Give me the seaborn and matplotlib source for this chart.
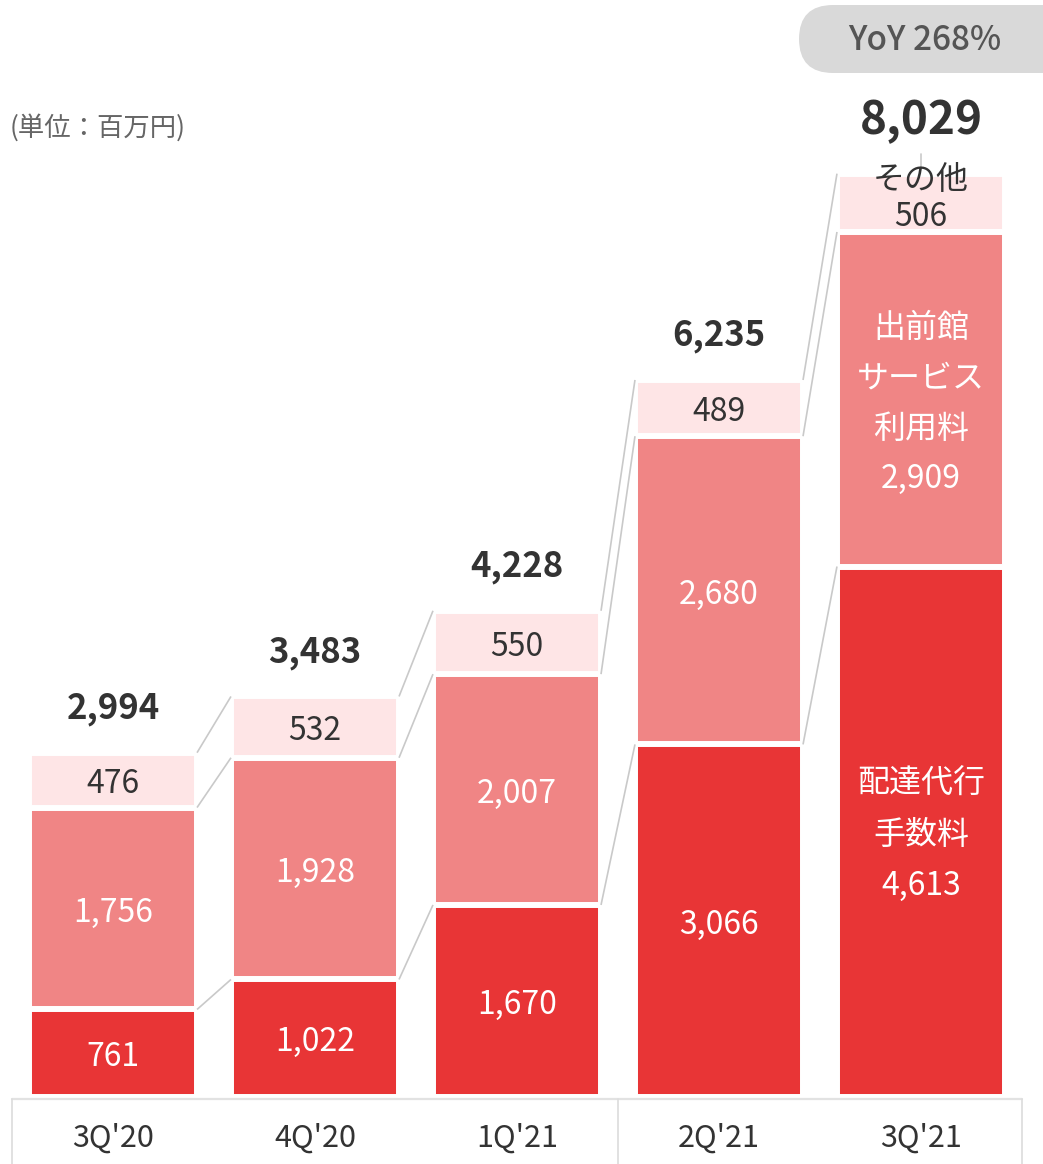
import matplotlib
matplotlib.use("Agg")
import matplotlib.pyplot as plt
from matplotlib.patches import FancyBboxPatch
import seaborn as sns
import pandas as pd

# Quarterly revenue breakdown (millions of yen)
categories = ["3Q'20", "4Q'20", "1Q'21", "2Q'21", "3Q'21"]
delivery_fee = [761, 1022, 1670, 3066, 4613]   # 配達代行手数料
service_fee = [1756, 1928, 2007, 2680, 2909]   # 出前館サービス利用料
other = [476, 532, 550, 489, 506]              # その他
totals = [2994, 3483, 4228, 6235, 8029]
yoy_label = "YoY 268%"
unit_label = "(単位：百万円)"

RED = "#E83536"
PINK = "#F08585"
LIGHT = "#FEE5E6"
DARK = "#333333"
LINE = "#C9C9C9"

sns.set_style("white")
FONT = ["Noto Sans CJK JP", "DejaVu Sans"]
plt.rcParams["font.family"] = FONT

W, H = 1043, 1164
fig = plt.figure(figsize=(W / 100, H / 100), dpi=100)
ax = fig.add_axes([0, 0, 1, 1])

# scale: pixels per million yen, baseline and bar spacing in pixels
k = 0.1150
base_px = 67
step_px = 202
first_px = 113

mid_top = [d + s for d, s in zip(delivery_fee, service_fee)]
df = pd.DataFrame({
    "quarter": categories,
    "total": totals,
    "mid": mid_top,
    "delivery": delivery_fee,
})

bar_w = 0.83
common = dict(x="quarter", order=categories, errorbar=None, width=bar_w,
              edgecolor="white", linewidth=4.3, ax=ax, saturation=1)
sns.barplot(data=df, y="total", color=LIGHT, **common)
sns.barplot(data=df, y="mid", color=PINK, **common)
sns.barplot(data=df, y="delivery", color=RED, **common)

ax.set_xlim(-first_px / step_px, (W - first_px) / step_px)
ax.set_ylim(-base_px / k, (H - base_px) / k)
ax.set_axis_off()

# connector lines between neighbouring bars at each segment boundary
half = 0.416
levels = [delivery_fee, mid_top, totals]
for lv in levels:
    for i in range(len(categories) - 1):
        ax.plot([i + half, i + 1 - half], [lv[i], lv[i + 1]],
                color=LINE, lw=1.2, solid_capstyle="butt", zorder=1)
ax.plot([4, 4], [totals[4] + 6 / k, totals[4] + 20 / k], color=LINE, lw=1.2)


def label(x, y, s, color, size, dy=-3, **kw):
    ax.annotate(s, (x, y), xytext=(0, dy), textcoords="offset points",
                ha="center", va="center", color=color, fontsize=size, **kw)


# segment labels
fs = 23
for i in range(len(categories)):
    d, s, o = delivery_fee[i], service_fee[i], other[i]
    if i < 4:
        label(i, d / 2, f"{d:,}", "white", fs)
        label(i, d + s / 2, f"{s:,}", "white", fs)
        label(i, d + s + o / 2, f"{o:,}", DARK, fs)
    else:
        label(i, d / 2, f"配達代行\n手数料\n{d:,}", "white", fs,
              dy=-2, linespacing=1.76)
        label(i, d + s / 2, f"出前館\nサービス\n利用料\n{s:,}", "white", fs,
              dy=-3, linespacing=1.74)
        label(i, d + s + o / 2, f"その他\n{o:,}", DARK, fs,
              dy=3, linespacing=1.2)

# totals above the bars
for i, t in enumerate(totals):
    big = i == len(totals) - 1
    label(i, t, f"{t:,}", DARK, 33 if big else 25,
          dy=38 if big else 32, fontweight="bold")

# category strip below the bars
strip_top = -2 / k
ax.plot([-0.5, 4.5], [strip_top, strip_top], color="#E2E2E2", lw=1.6)
for xv in (-0.5, 2.5, 4.5):
    ax.plot([xv, xv], [strip_top, -base_px / k], color="#DCDCDC", lw=1.2)
for i, c in enumerate(categories):
    ax.text(i, -41 / k, c, ha="center", va="center", color=DARK, fontsize=22)

# unit note
fig.text(10 / W, 1 - 128 / H, unit_label, ha="left", va="center",
         color="#666666", fontsize=19)

# YoY pill
pill = FancyBboxPatch((7.99, (H - 73) / 100), 2.9, 0.68,
                      boxstyle="round,pad=0,rounding_size=0.34",
                      transform=fig.dpi_scale_trans, facecolor="#D9D9D9",
                      edgecolor="none", zorder=3)
fig.patches.append(pill)
fig.text(925 / W, 1 - 40 / H, yoy_label, ha="center", va="center",
         color="#555555", fontsize=24, fontweight="medium", zorder=4)

fig.savefig("out.png", dpi=100, facecolor="white")
